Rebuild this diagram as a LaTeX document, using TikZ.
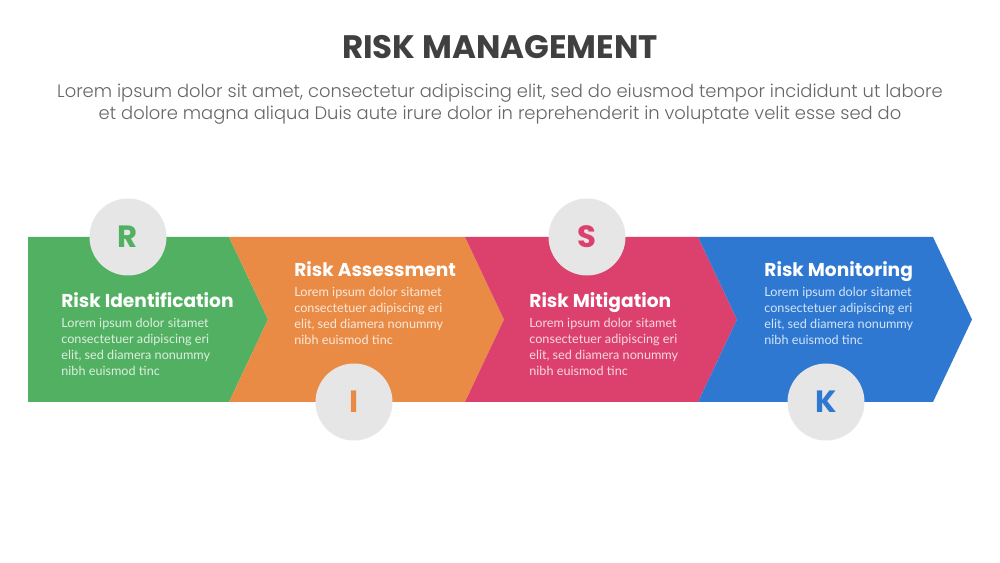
\documentclass[tikz,border=0pt]{standalone}
\usepackage{fontspec}
\setmainfont{Poppins}
\newfontfamily\latofont{Lato}
\newfontfamily\poplight{Poppins Light}
\definecolor{riskgreen}{HTML}{52B062}
\definecolor{riskorange}{HTML}{E98B45}
\definecolor{riskpink}{HTML}{DC406C}
\definecolor{riskblue}{HTML}{2E78D2}
\definecolor{circgray}{HTML}{E6E6E6}
\definecolor{headgray}{HTML}{404040}
\definecolor{subgray}{HTML}{666666}
\tikzset{
  letter/.style={circle,fill=circgray,minimum size=1.54cm,inner sep=0pt,font=\fontsize{17.5}{17.5}\selectfont\bfseries},
  steptitle/.style={anchor=base west,text=white,inner sep=0pt,font=\fontsize{10.6}{12}\selectfont\bfseries},
  stepbody/.style={anchor=north west,text=white,text opacity=.8,inner sep=0pt,align=left,font=\latofont\fontsize{7.2}{9}\selectfont}
}
\begin{document}
\begin{tikzpicture}[x=0.02cm,y=-0.02cm]
\useasboundingbox (0,0) rectangle (1000,563);
\fill[white] (0,0) rectangle (1000,563);

\node[text=headgray,font=\fontsize{18.5}{20}\selectfont\bfseries] (head) at (500,47) {RISK MANAGEMENT};
\node[text=subgray,align=center,font=\poplight\fontsize{10.2}{12.6}\selectfont] (sub) at (500,104)
  {Lorem ipsum dolor sit amet, consectetur adipiscing elit, sed do eiusmod tempor incididunt ut labore\\
   et dolore magna aliqua Duis aute irure dolor in reprehenderit in voluptate velit esse sed do};

% arrow band
\fill[riskgreen] (28,237)--(229,237)--(268,319.5)--(229,402)--(28,402)--cycle;
\foreach \a/\b/\c in {229/465/riskorange, 465/698/riskpink, 698/933/riskblue}
{
   \fill[\c] (\a,237)--(\b,237)--(\b+39,319.5)--(\b,402)--(\a,402)--(\a+39,319.5)--cycle;
}

\node[letter,text=riskgreen] (r) at (128,237) {R};
\node[letter,text=riskorange] (i) at (354,402) {I};
\node[letter,text=riskpink] (s) at (587,237) {S};
\node[letter,text=riskblue] (k) at (826,402) {K};

\foreach \x/\y/\t/\n in {61/308/Risk Identification/ident, 294/277/Risk Assessment/assess,
                         529/308/Risk Mitigation/mitig, 764/277/Risk Monitoring/monit}
{
   \node[steptitle] (\n) at (\x,\y) {\t};
   \node[stepbody] (\n body) at (\x,\y+10) {Lorem ipsum dolor sitamet\\consectetuer adipiscing eri\\elit, sed diamera nonummy\\nibh euismod tinc};
}
\end{tikzpicture}
\end{document}
